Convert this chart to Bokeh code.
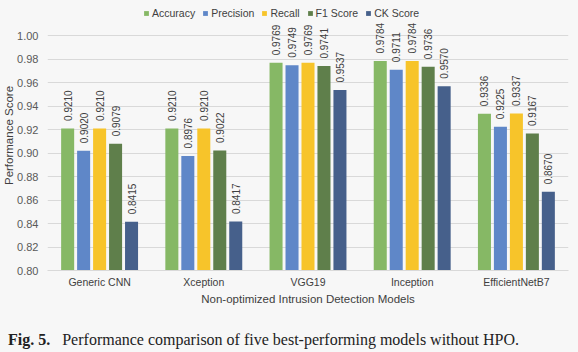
import math
from bokeh.plotting import figure
from bokeh.models import ColumnDataSource, FactorRange, FixedTicker, NumeralTickFormatter, Title, Div
from bokeh.layouts import column
from bokeh.transform import dodge
from bokeh.core.properties import value
from bokeh.embed import file_html
from bokeh.resources import INLINE

models = ["Generic CNN", "Xception", "VGG19", "Inception", "EfficientNetB7"]
series_names = ["Accuracy", "Precision", "Recall", "F1 Score", "CK Score"]
accuracy = [0.9210, 0.9210, 0.9769, 0.9784, 0.9336]
precision = [0.9020, 0.8976, 0.9749, 0.9711, 0.9225]
recall = [0.9210, 0.9210, 0.9769, 0.9784, 0.9337]
f1_score = [0.9079, 0.9022, 0.9741, 0.9736, 0.9167]
ck_score = [0.8415, 0.8417, 0.9537, 0.9570, 0.8670]
y_ticks = [0.80, 0.82, 0.84, 0.86, 0.88, 0.90, 0.92, 0.94, 0.96, 0.98, 1.00]

colors = ["#86b865", "#5f87c8", "#f7c42a", "#5f7f4b", "#46608b"]
keys = ["acc", "prec", "rec", "f1", "ck"]
series = [accuracy, precision, recall, f1_score, ck_score]

data = {"model": models}
for k, vals in zip(keys, series):
    data[k] = vals
    data[k + "_txt"] = [f"{v:.4f}" for v in vals]
source = ColumnDataSource(data)

BG = "#f7f7f7"
p = figure(x_range=FactorRange(*models), y_range=(0.80, 1.03),
           width=578, height=322, output_backend="svg", toolbar_location=None,
           min_border_left=46, min_border_right=10, min_border_top=0, min_border_bottom=52,
           background_fill_color=BG, border_fill_color=BG, outline_line_color=None)

pitch = 0.1533
offsets = [-2 * pitch, -pitch, 0, pitch, 2 * pitch]
for k, name, col, off in zip(keys, series_names, colors, offsets):
    xs = dodge("model", off, range=p.x_range)
    p.vbar(x=xs, top=k, bottom=0.80, width=0.125, source=source,
           fill_color=col, line_color=None, legend_label=name)
    p.text(x=xs, y=k, text=k + "_txt", source=source, angle=math.pi / 2,
           text_align="left", text_baseline="middle", y_offset=-7.5,
           text_font_size="10px", text_color="#404040", text_font=value("Liberation Sans"))

p.yaxis.ticker = FixedTicker(ticks=y_ticks)
p.yaxis.formatter = NumeralTickFormatter(format="0.00")
p.yaxis.axis_line_color = None
p.yaxis.major_tick_line_color = None
p.yaxis.minor_tick_line_color = None
p.yaxis.major_tick_out = 0
p.yaxis.minor_tick_out = 0
p.yaxis.major_label_standoff = 9
p.yaxis.major_label_text_font = "Liberation Sans"
p.yaxis.major_label_text_font_size = "11px"
p.yaxis.major_label_text_color = "#595959"

p.xaxis.axis_line_color = "#d9d9d9"
p.xaxis.major_tick_line_color = None
p.xaxis.minor_tick_line_color = None
p.xaxis.major_tick_out = 0
p.xaxis.minor_tick_out = 0
p.xaxis.major_label_standoff = 5
p.xaxis.major_label_text_font = "Liberation Sans"
p.xaxis.major_label_text_font_size = "10.5px"
p.xaxis.major_label_text_color = "#404040"
p.xaxis.axis_label = "Non-optimized Intrusion Detection Models"
p.xaxis.axis_label_standoff = 2
p.xaxis.axis_label_text_font = "Liberation Sans"
p.xaxis.axis_label_text_font_size = "11.5px"
p.xaxis.axis_label_text_font_style = "normal"
p.xaxis.axis_label_text_color = "#404040"

p.xgrid.grid_line_color = None
p.ygrid.grid_line_color = "#d9d9d9"

p.legend.orientation = "horizontal"
p.legend.location = (96, 251)
p.legend.background_fill_alpha = 0
p.legend.border_line_color = None
p.legend.padding = 0
p.legend.margin = 0
p.legend.spacing = 7
p.legend.glyph_width = 6
p.legend.glyph_height = 6
p.legend.label_standoff = 3
p.legend.label_text_font = "Liberation Sans"
p.legend.label_text_font_size = "10.5px"
p.legend.label_text_color = "#404040"
p.legend.label_height = 12

ytitle = Title(text="Performance Score", align="center", offset=-17, standoff=0,
               text_font="Liberation Sans", text_font_size="11.5px",
               text_font_style="normal", text_color="#404040")
p.add_layout(ytitle, "left")

caption = Div(text="<b>Fig. 5.</b><span style='margin-left:12px'>Performance comparison of five best-performing models without HPO.</span>",
              width=578, height=30,
              styles={"font-family": "Liberation Serif", "font-size": "16px", "line-height": "30px",
                      "color": "#222222", "padding-left": "8px", "padding-top": "3px",
                      "background-color": BG, "white-space": "nowrap", "margin": "0",
                      "box-sizing": "border-box"})

layout = column(p, caption, spacing=0, styles={"background-color": BG})
open("out.html", "w").write(file_html(layout, INLINE))
